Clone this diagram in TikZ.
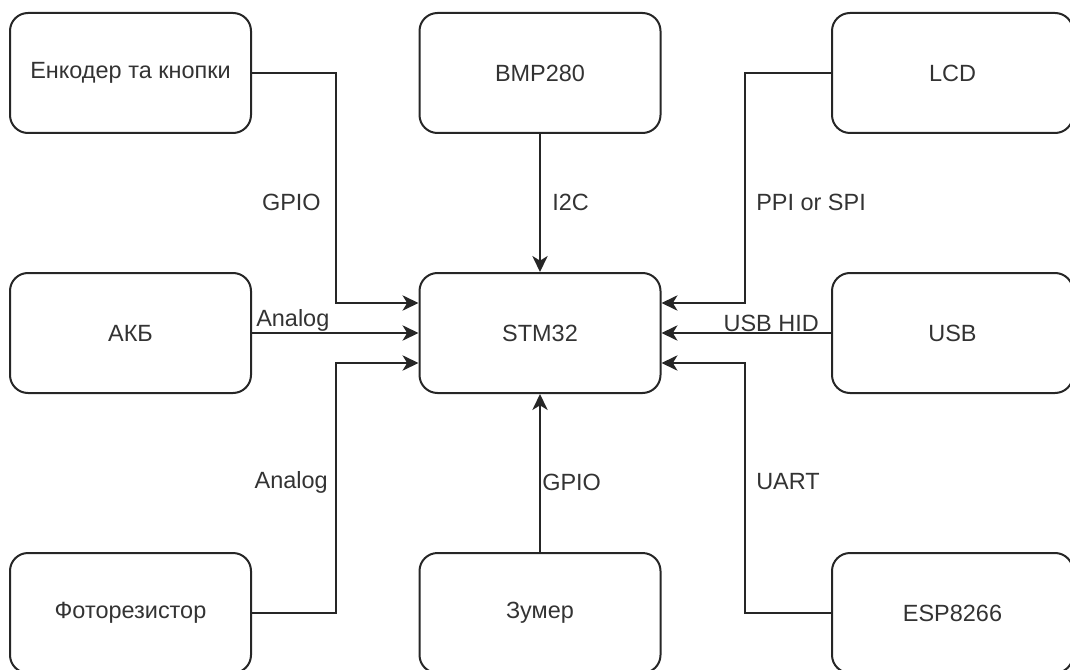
\documentclass[tikz,border=0pt]{standalone}
\usepackage{fontspec}
\setmainfont{Liberation Sans}
\usetikzlibrary{arrows.meta}
\tikzset{
  box/.style={draw=black!85, line width=1.5pt, rounded corners=13.5pt, minimum width=180.75pt, minimum height=90pt, inner sep=0pt, text=black!80, font=\fontsize{17.6}{20}\selectfont},
  conn/.style={draw=black!85, line width=1.5pt, -{Stealth[length=12pt, width=11.5pt, inset=3.5pt]}},
  lbl/.style={inner sep=0pt, text=black!80, font=\fontsize{17.6}{20}\selectfont}
}
\begin{document}
\begin{tikzpicture}[x=0.75pt,y=-0.75pt]
\useasboundingbox (0,0) rectangle (1070,670);
\node[box] (enc) at (130.5,73) {Енкодер та кнопки};
\node[box] (bmp) at (540,73) {BMP280};
\node[box] (lcd) at (952.5,73) {LCD};
\node[box] (akb) at (130.5,333) {АКБ};
\node[box] (stm) at (540,333) {STM32};
\node[box] (usb) at (952.5,333) {USB};
\node[box] (foto) at (130.5,613) {Фоторезистор};
\node[box] (zum) at (540,613) {Зумер};
\node[box] (esp) at (952.5,613) {ESP8266};

\draw[conn] (enc.east) -- ++(84,0) |- ([yshift=22.5pt]stm.west);
\draw[conn] (akb.east) -- (stm.west);
\draw[conn] (foto.east) -- ++(84,0) |- ([yshift=-22.5pt]stm.west);
\draw[conn] (bmp.south) -- (stm.north);
\draw[conn] (zum.north) -- (stm.south);
\draw[conn] (lcd.west) -- ++(-86,0) |- ([yshift=22.5pt]stm.east);
\draw[conn] (usb.west) -- (stm.east);
\draw[conn] (esp.west) -- ++(-86,0) |- ([yshift=-22.5pt]stm.east);

\node[lbl, anchor=east] (l1) at (321,202) {GPIO};
\node[lbl, anchor=west] (l2) at (552,202) {I2C};
\node[lbl, anchor=west] (l3) at (756,202) {PPI or SPI};
\node[lbl, anchor=south west] (l4) at ([xshift=3pt,yshift=1pt]akb.east) {Analog};
\node[lbl, anchor=south east] (l5) at ([xshift=-9pt,yshift=1pt]usb.west) {USB HID};
\node[lbl, anchor=east] (l6) at (328,482) {Analog};
\node[lbl, anchor=west] (l7) at (542,482) {GPIO};
\node[lbl, anchor=west] (l8) at (756,482) {UART};
\end{tikzpicture}
\end{document}
